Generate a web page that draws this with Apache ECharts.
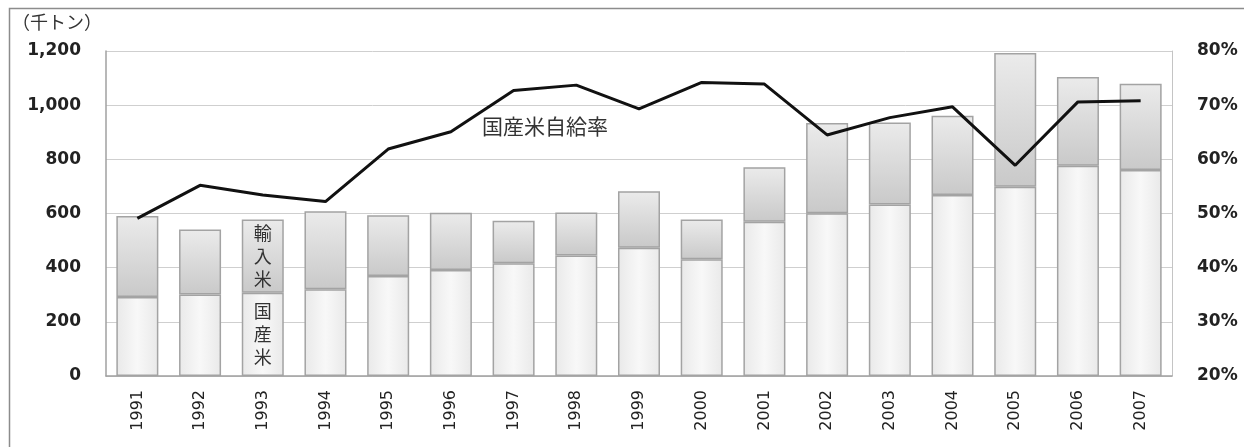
<!DOCTYPE html>
<html>
<head>
<meta charset="utf-8">
<script src="https://cdn.jsdelivr.net/npm/echarts@6/dist/echarts.min.js"></script>
<style>
  html, body { margin: 0; padding: 0; background: #fff; }
  #chart { width: 1244px; height: 447px; }
</style>
</head>
<body>
<div id="chart"></div>
<script>
// 年
var years = ['1991','1992','1993','1994','1995','1996','1997','1998','1999',
             '2000','2001','2002','2003','2004','2005','2006','2007'];
// 国産米（千トン）
var domestic = [292, 301, 307, 320, 369, 391, 416, 445, 474, 431, 570, 601, 633, 668, 699, 776, 761];
// 合計（千トン）
var total    = [591, 541, 578, 608, 594, 603, 573, 604, 682, 578, 771, 934, 936, 961, 1193, 1104, 1079];
// 国産米自給率（%）
var ratio    = [49.1, 55.2, 53.4, 52.2, 61.9, 65.1, 72.7, 73.7, 69.3, 74.2, 73.9, 64.5, 67.7, 69.7, 58.9, 70.6, 70.8];

// 輸入米 = 合計 - 国産米
var imported = total.map(function (t, i) { return t - domestic[i]; });

var labelYear = '1993'; // 凡例代わりに文字を入れる棒

var myChart = echarts.init(document.getElementById('chart'));

var barBorder = '#a3a3a3';
var cjk = '"Noto Sans CJK JP", sans-serif';

function withLabel(values, text) {
    return values.map(function (v, i) {
        if (years[i] !== labelYear) return v;
        return {
            value: v,
            label: {
                show: true,
                position: 'inside',
                formatter: text,
                fontFamily: cjk,
                fontSize: 18,
                lineHeight: 23,
                color: '#333'
            }
        };
    });
}

var option = {
    animation: false,
    grid: { left: 106, right: 72, top: 51, bottom: 71 },
    graphic: [
        {
            type: 'rect',
            shape: { x: 9.5, y: 8.5, width: 1400, height: 600 },
            style: { fill: 'none', stroke: '#8c8c8c', lineWidth: 1.5 },
            silent: true
        },
        {
            type: 'text',
            left: 12, top: 13,
            style: { text: '（千トン）', font: '18px ' + cjk, fill: '#333' }
        },
        {
            type: 'text',
            left: 482, top: 116,
            style: { text: '国産米自給率', font: '21px ' + cjk, fill: '#333' }
        }
    ],
    xAxis: {
        type: 'category',
        data: years,
        axisLine: { lineStyle: { color: '#a0a0a0', width: 1.5 } },
        axisTick: { show: false },
        axisLabel: {
            rotate: 90,
            margin: 14,
            fontFamily: 'DejaVu Sans',
            fontSize: 16,
            color: '#222'
        }
    },
    yAxis: [
        {
            type: 'value',
            min: 0, max: 1200, interval: 200,
            axisLine: { show: true, lineStyle: { color: '#a0a0a0', width: 1.5 } },
            axisTick: { show: false },
            axisLabel: {
                margin: 25,
                fontFamily: 'DejaVu Sans',
                fontWeight: 'bold',
                fontSize: 17,
                color: '#222',
                formatter: function (v) { return v.toLocaleString('en-US'); }
            },
            splitLine: { lineStyle: { color: '#cfcfcf', width: 1 } }
        },
        {
            type: 'value',
            min: 20, max: 80, interval: 10,
            position: 'right',
            axisLine: { show: true, lineStyle: { color: '#c4c4c4', width: 1 } },
            axisTick: { show: false },
            axisLabel: {
                margin: 25,
                fontFamily: 'DejaVu Sans',
                fontWeight: 'bold',
                fontSize: 17,
                color: '#222',
                formatter: '{value}%'
            },
            splitLine: { show: false }
        }
    ],
    series: [
        {
            name: '国産米',
            type: 'bar',
            stack: 'rice',
            barWidth: '67%',
            data: withLabel(domestic, '国\n産\n米'),
            itemStyle: {
                borderColor: barBorder,
                borderWidth: 1.5,
                color: {
                    type: 'linear', x: 0, y: 0, x2: 1, y2: 0,
                    colorStops: [
                        { offset: 0, color: '#e9e9e9' },
                        { offset: 0.5, color: '#f8f8f8' },
                        { offset: 1, color: '#e9e9e9' }
                    ]
                }
            }
        },
        {
            name: '輸入米',
            type: 'bar',
            stack: 'rice',
            barWidth: '67%',
            data: withLabel(imported, '輸\n入\n米'),
            itemStyle: {
                borderColor: barBorder,
                borderWidth: 1.5,
                color: {
                    type: 'linear', x: 0, y: 0, x2: 0, y2: 1,
                    colorStops: [
                        { offset: 0, color: '#ebebeb' },
                        { offset: 1, color: '#c9c9c9' }
                    ]
                }
            }
        },
        {
            name: '国産米自給率',
            type: 'line',
            yAxisIndex: 1,
            data: ratio,
            symbol: 'none',
            lineStyle: { color: '#111', width: 3 },
            z: 5
        }
    ]
};

myChart.setOption(option);
</script>
</body>
</html>
